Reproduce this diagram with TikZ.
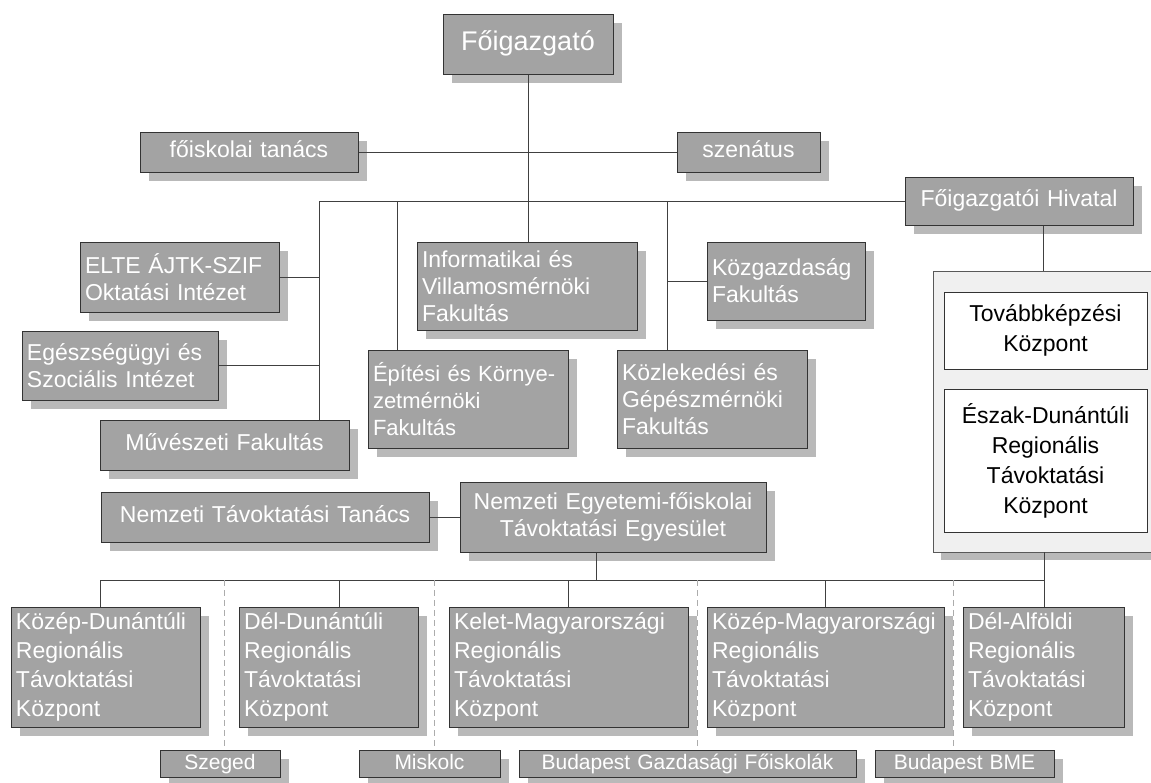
\documentclass[tikz,border=0pt]{standalone}
\usepackage{fontspec}
\setmainfont{Liberation Sans}
\usetikzlibrary{calc}
\tikzset{
  gbox/.style={draw=black!80, line width=1pt, fill=gray!72, text=white, inner xsep=5pt, inner ysep=0pt,
    font=\fontsize{23}{27}\selectfont},
  shad/.style={fill=gray!55},
  wbox/.style={draw=black!80, line width=0.9pt, fill=white, text=black, inner sep=0pt, align=center,
    font=\fontsize{23}{30}\selectfont},
  cbox/.style={draw=black!65, line width=0.9pt, fill=gray!12, inner sep=0pt},
  conn/.style={draw=black!75, line width=1pt},
  dconn/.style={draw=gray!65, line width=0.8pt, dash pattern=on 6pt off 4pt},
  regf/.style={font=\fontsize{23}{29}\selectfont},
  oneline/.style={text height=16pt, text depth=5pt},
  smallf/.style={font=\fontsize{21}{24}\selectfont, text height=15pt, text depth=4pt},
}
\newcommand{\gb}[8][]{%
  \fill[shad] (#3+9,#4+9) rectangle (#5+9,#6+9);
  \pgfmathsetmacro{\bw}{#5-#3}\pgfmathsetmacro{\bh}{#6-#4}\pgfmathsetmacro{\tw}{#5-#3-10}%
  \node[gbox, minimum width=\bw pt, minimum height=\bh pt, text width=\tw pt, align=#7, #1] (#2)
    at ({(#3+#5)/2},{(#4+#6)/2}) {#8};
}
\begin{document}
\begin{tikzpicture}[x=1pt,y=-1pt]
\useasboundingbox (0,0) rectangle (1151,782);
\clip (0,0) rectangle (1151,782);
\fill[white] (0,0) rectangle (1151,782);

% top level
\gb[font=\fontsize{27}{30}\selectfont, text height=19pt, text depth=6pt]{fo}{443}{14}{613}{74}{center}{Főigazgató}
\gb[oneline]{ft}{140}{132}{358}{172}{center}{főiskolai tanács}
\gb[oneline]{sz}{677}{132}{820}{172}{center}{szenátus}
\gb[oneline]{hiv}{905}{177}{1133}{225}{center}{Főigazgatói Hivatal}

% faculties
\gb{elte}{80}{242}{279}{312}{left}{ELTE ÁJTK-SZIF\\Oktatási Intézet}
\gb{eg}{22}{331}{218}{400}{left}{Egészségügyi és\\Szociális Intézet}
\gb[oneline]{muv}{100}{420}{349}{470}{center}{Művészeti Fakultás}
\gb{inf}{417}{242}{637}{330}{left}{Informatikai és\\Villamosmérnöki\\Fakultás}
\gb[inner xsep=3pt, font=\fontsize{22}{27}\selectfont]{epit}{368}{350}{568}{448}{left}{\mbox{Építési és Környe-}\\zetmérnöki\\Fakultás}
\gb{kozg}{707}{242}{865}{320}{left}{Közgazdaság\\Fakultás}
\gb{kozl}{617}{350}{807}{448}{left}{Közlekedési és\\Gépészmérnöki\\Fakultás}

% container on the right
\fill[gray!55] (941,279) rectangle (1170,560);
\node[cbox, minimum width=226pt, minimum height=281pt] (cont) at (1046,411.5) {};
\node[wbox, minimum width=203pt, minimum height=77pt] (tk) at (1045.5,330.5) {Továbbképzési\\Központ};
\node[wbox, minimum width=203pt, minimum height=143pt] (ed) at (1045.5,460.5) {Észak-Dunántúli\\Regionális\\Távoktatási\\Központ};

% distance-learning association
\gb[oneline]{ntt}{101}{492}{429}{542}{center}{Nemzeti Távoktatási Tanács}
\gb{net}{460}{482}{766}{552}{center}{Nemzeti Egyetemi-főiskolai\\Távoktatási Egyesület}

% regional centres
\gb[regf, inner xsep=4pt]{r1}{11}{607}{200}{727}{left}{Közép-Dunántúli\\Regionális\\Távoktatási\\Központ}
\gb[regf, inner xsep=4pt]{r2}{239}{607}{418}{727}{left}{Dél-Dunántúli\\Regionális\\Távoktatási\\Központ}
\gb[regf, inner xsep=4pt]{r3}{449}{607}{688}{727}{left}{Kelet-Magyarországi\\Regionális\\Távoktatási\\Központ}
\gb[regf, inner xsep=4pt]{r4}{707}{607}{944}{727}{left}{Közép-Magyarországi\\Regionális\\Távoktatási\\Központ}
\gb[regf, inner xsep=4pt]{r5}{963}{607}{1124}{727}{left}{Dél-Alföldi\\Regionális\\Távoktatási\\Központ}

% bottom row
\gb[smallf]{s1}{160}{750}{280}{777}{center}{Szeged}
\gb[smallf]{s2}{359}{750}{500}{777}{center}{Miskolc}
\gb[smallf]{s3}{519}{750}{856}{777}{center}{Budapest Gazdasági Főiskolák}
\gb[smallf]{s4}{875}{750}{1054}{777}{center}{Budapest BME}

% connectors
\coordinate (bL) at (319,201);
\coordinate (b2) at (397,201);
\coordinate (b3) at (667,201);
\coordinate (hvx) at (1043,0);
\draw[conn] (ft.east) -- (sz.west);
\draw[conn] (fo.south) -- (fo.south |- inf.north);
\draw[conn] (bL) -- (hiv.west);
\draw[conn] (bL) -- (bL |- muv.north);
\draw[conn] (b2) -- (b2 |- epit.north);
\draw[conn] (b3) -- (b3 |- kozl.north);
\draw[conn] (elte.east) -- (elte.east -| bL);
\draw[conn] (eg.east) -- (eg.east -| bL);
\draw[conn] (kozg.west) -- (kozg.west -| b3);
\draw[conn] (hiv.south -| hvx) -- (cont.north -| hvx);
\draw[conn] (ntt.east) -- (net.west);

\coordinate (c1) at (100,580);
\coordinate (c2) at (339,580);
\coordinate (c3) at (568,580);
\coordinate (c4) at (825,580);
\coordinate (c5) at (1044,580);
\coordinate (nx) at (596,580);
\draw[conn] (c1) -- (c5);
\draw[conn] (net.south -| nx) -- (nx);
\draw[conn] (cont.south -| c5) -- (c5 |- r5.north);
\draw[conn] (c1) -- (c1 |- r1.north);
\draw[conn] (c2) -- (c2 |- r2.north);
\draw[conn] (c3) -- (c3 |- r3.north);
\draw[conn] (c4) -- (c4 |- r4.north);

\coordinate (d1) at (224,580);
\coordinate (d2) at (434,580);
\coordinate (d3) at (697,580);
\coordinate (d4) at (953,580);
\draw[dconn] (d1) -- (d1 |- s1.north);
\draw[dconn] (d2) -- (d2 |- s2.north);
\draw[dconn] (d3) -- (d3 |- s3.north);
\draw[dconn] (d4) -- (d4 |- s4.north);
\end{tikzpicture}
\end{document}
